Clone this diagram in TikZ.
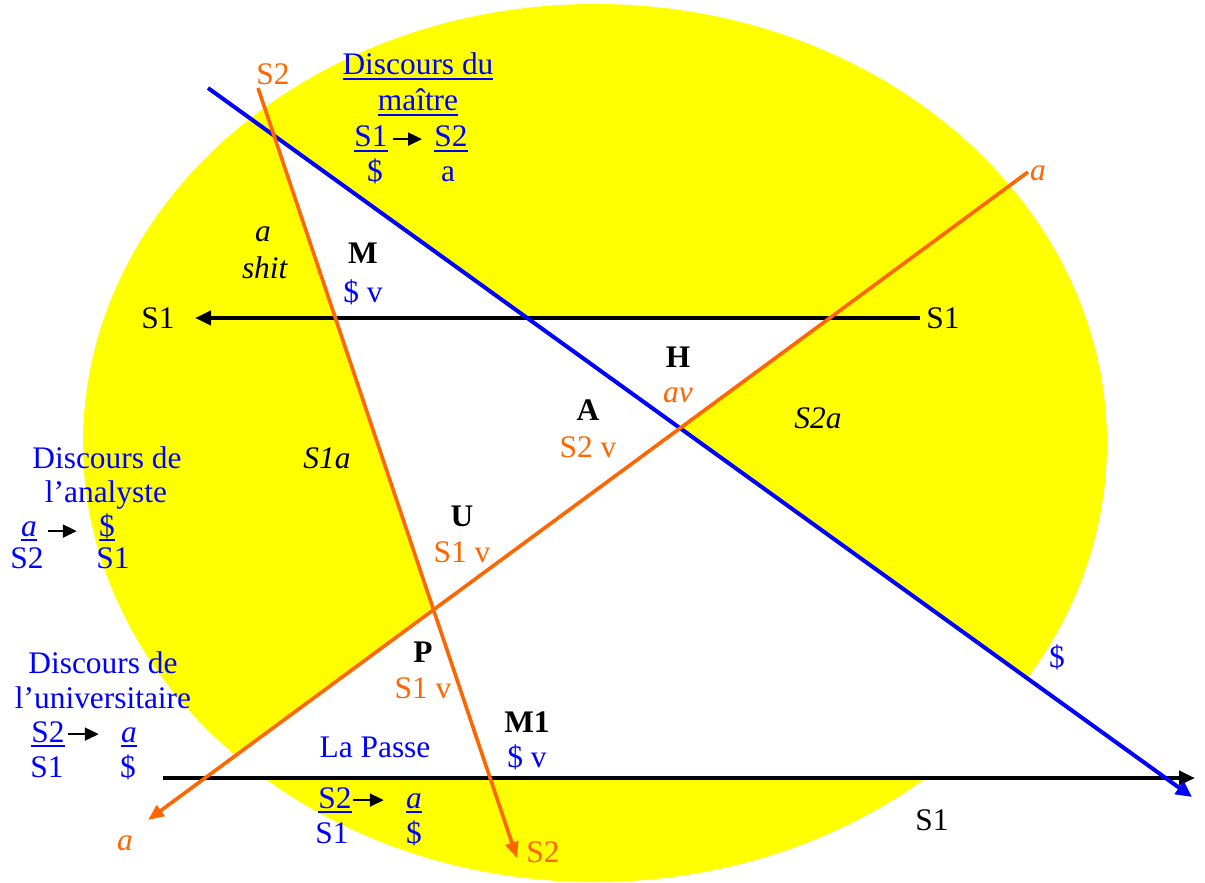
\documentclass[tikz,border=0pt]{standalone}
\usepackage{fontspec}
\setmainfont{Liberation Serif}
\usetikzlibrary{arrows.meta}

\definecolor{lacanblue}{RGB}{0,0,255}
\definecolor{lacanorange}{RGB}{255,102,0}
\definecolor{lacanyellow}{RGB}{255,255,0}

% underline at a fixed depth below the baseline
\newcommand{\undr}[1]{\setbox0\hbox{#1}\rlap{\rule[-2.5pt]{\wd0}{1pt}}\box0}

\begin{document}
\begin{tikzpicture}[x=0.5pt, y=-0.5pt,
  every node/.style={inner sep=0pt, anchor=base, font=\fontsize{15.7}{18}\selectfont},
  blackline/.style={line width=2.2pt, -{Triangle[length=8pt,width=7pt]}},
  blueline/.style={line width=2pt, draw=lacanblue, -{Triangle[length=8pt,width=7.5pt]}},
  orangeline/.style={line width=1.8pt, draw=lacanorange, -{Triangle[length=8pt,width=6.5pt]}},
  smallarrow/.style={line width=1.1pt, -{Triangle[length=7pt,width=6.5pt]}},
  bluetxt/.style={text=lacanblue},
  orangetxt/.style={text=lacanorange}]

\useasboundingbox (0,0) rectangle (1205,883);

% end points of the five lines
\coordinate (bluestart) at (208,88);
\coordinate (blueend) at (1192,797);
\coordinate (sstart) at (258,88);
\coordinate (send) at (517,858);
\coordinate (astart) at (1028,172);
\coordinate (aend) at (148,820);
\coordinate (topR) at (920,318);
\coordinate (topL) at (195,318);
\coordinate (botL) at (163,778);
\coordinate (botR) at (1195,778);

% crossings
\coordinate (mtop) at (intersection of bluestart--blueend and sstart--send);
\coordinate (m1) at (intersection of sstart--send and topL--topR);
\coordinate (m2) at (intersection of bluestart--blueend and topL--topR);
\coordinate (h1) at (intersection of astart--aend and topL--topR);
\coordinate (x) at (intersection of astart--aend and bluestart--blueend);
\coordinate (p) at (intersection of astart--aend and sstart--send);
\coordinate (pl) at (intersection of astart--aend and botL--botR);
\coordinate (br) at (intersection of bluestart--blueend and botL--botR);

\fill[lacanyellow] (595,443) ellipse [x radius=256pt, y radius=219.5pt];

\fill[white] (mtop) -- (m1) -- (m2) -- cycle;
\fill[white] (m1) -- (h1) -- (x) -- (p) -- cycle;
\fill[white] (pl) -- (x) -- (br) -- cycle;

\draw[blackline] (topR) -- (topL);
\draw[blackline] (botL) -- (botR);
\draw[blueline] (bluestart) -- (blueend);
\draw[orangeline] (sstart) -- (send);
\draw[orangeline] (astart) -- (aend);

% line labels
\node[orangetxt] (s2top) at (273,85) {S2};
\node[orangetxt] (s2bot) at (543,862) {S2};
\node (s1left) at (158,328) {S1};
\node (s1right) at (943,328) {S1};
\node (s1bot) at (932,830) {S1};
\node[bluetxt] (barS) at (1057,667) {\$};
\node[orangetxt] (atop) at (1038,180) {\textit{a}};
\node[orangetxt] (abot) at (125,850) {\textit{a}};

% discours du maitre
\node[bluetxt] (dm1) at (418,75) {\undr{Discours du}};
\node[bluetxt] (dm2) at (418,111) {\undr{maître}};
\node[bluetxt] (dms1) at (371,147) {\undr{S1}};
\node[bluetxt] (dms2) at (451,147) {\undr{S2}};
\node[bluetxt] (dmbar) at (375,182) {\$};
\node[bluetxt] (dma) at (448,182) {a};
\draw[smallarrow, shorten <=2.5pt, shorten >=6pt] (dms1.east) -- (dms1.east -| dms2.west);

% discours de l'analyste
\node[bluetxt] (da1) at (107,468) {Discours de};
\node[bluetxt] (da2) at (106,502) {l’analyste};
\node[bluetxt] (daa) at (29,536) {\undr{\textit{a}}};
\node[bluetxt] (dabar) at (107,536) {\undr{\$}};
\node[bluetxt] (das2) at (27,568) {S2};
\node[bluetxt] (das1) at (113,568) {S1};
\draw[smallarrow, shorten <=5.5pt, shorten >=11pt] (daa.east) -- (daa.east -| dabar.west);

% discours de l'universitaire
\node[bluetxt] (du1) at (103,673) {Discours de};
\node[bluetxt] (du2) at (103,708) {l’universitaire};
\node[bluetxt] (dus2) at (48,742) {\undr{S2}};
\node[bluetxt] (dua) at (129,742) {\undr{\textit{a}}};
\node[bluetxt] (dus1) at (47,777) {S1};
\node[bluetxt] (dubar) at (128,777) {\$};
\draw[smallarrow, shorten <=1.5pt, shorten >=11pt] (dus2.east) -- (dus2.east -| dua.west);

% la passe
\node[bluetxt] (lp) at (375,757) {La Passe};
\node[bluetxt] (lps2) at (335,808) {\undr{S2}};
\node[bluetxt] (lpa) at (414,808) {\undr{\textit{a}}};
\node[bluetxt] (lps1) at (332,843) {S1};
\node[bluetxt] (lpbar) at (414,843) {\$};
\draw[smallarrow, shorten <=0.5pt, shorten >=11pt] (lps2.east) -- (lps2.east -| lpa.west);

% regions
\node (ra) at (263,242) {\textit{a}};
\node (rshit) at (265,278) {\textit{shit}};
\node (rM) at (363,263) {\textbf{M}};
\node[bluetxt] (rMv) at (363,302) {\$ v};
\node (rH) at (678,367) {\textbf{H}};
\node[orangetxt] (rHv) at (678,402) {\textit{av}};
\node (rA) at (588,420) {\textbf{A}};
\node[orangetxt] (rAv) at (588,457) {S2 v};
\node (rs2a) at (818,428) {\textit{S2a}};
\node (rs1a) at (327,468) {\textit{S1a}};
\node (rU) at (462,526) {\textbf{U}};
\node[orangetxt] (rUv) at (462,562) {S1 v};
\node (rP) at (423,662) {\textbf{P}};
\node[orangetxt] (rPv) at (423,698) {S1 v};
\node (rM1) at (527,732) {\textbf{M1}};
\node[bluetxt] (rM1v) at (527,767) {\$ v};

\end{tikzpicture}
\end{document}
